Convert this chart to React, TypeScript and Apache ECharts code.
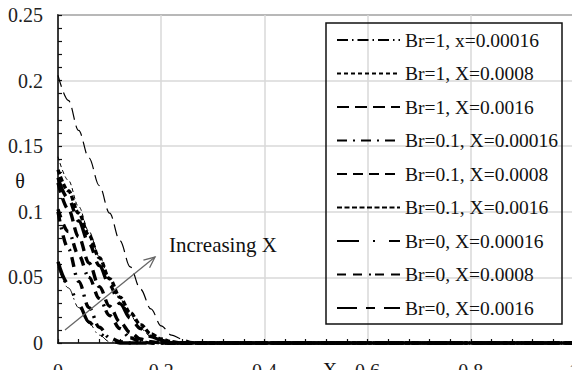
import React, { useEffect, useRef } from "react";
import * as echarts from "echarts";

// Positions along the duct (horizontal axis)
const xGrid = [0, 0.02, 0.04, 0.06, 0.08, 0.1, 0.12, 0.14, 0.16, 0.18, 0.2, 0.22, 0.24, 0.26, 0.28, 0.3, 1];

const seriesNames = [
  "Br=1, x=0.00016",
  "Br=1, X=0.0008",
  "Br=1, X=0.0016",
  "Br=0.1, X=0.00016",
  "Br=0.1, X=0.0008",
  "Br=0.1, X=0.0016",
  "Br=0, X=0.00016",
  "Br=0, X=0.0008",
  "Br=0, X=0.0016",
];

const br1X00016 = [0.058, 0.042, 0.027, 0.015, 0.006, 0.001, 0, 0, 0, 0, 0, 0, 0, 0, 0, 0, 0];
const br1X0008 = [0.142, 0.124, 0.104, 0.085, 0.066, 0.049, 0.034, 0.021, 0.011, 0.005, 0.002, 0.0005, 0, 0, 0, 0, 0];
const br1X0016 = [0.204, 0.185, 0.162, 0.141, 0.12, 0.099, 0.078, 0.058, 0.041, 0.026, 0.013, 0.006, 0.003, 0.001, 0, 0, 0];
const br01X00016 = [0.1, 0.072, 0.047, 0.027, 0.012, 0.004, 0.001, 0, 0, 0, 0, 0, 0, 0, 0, 0, 0];
const br01X0008 = [0.122, 0.102, 0.081, 0.061, 0.043, 0.028, 0.016, 0.008, 0.003, 0.001, 0, 0, 0, 0, 0, 0, 0];
const br01X0016 = [0.132, 0.116, 0.099, 0.082, 0.065, 0.049, 0.035, 0.023, 0.014, 0.007, 0.003, 0.001, 0, 0, 0, 0, 0];
const br0X00016 = [0.062, 0.045, 0.029, 0.016, 0.007, 0.002, 0, 0, 0, 0, 0, 0, 0, 0, 0, 0, 0];
const br0X0008 = [0.102, 0.085, 0.067, 0.05, 0.034, 0.021, 0.011, 0.004, 0.001, 0, 0, 0, 0, 0, 0, 0, 0];
const br0X0016 = [0.126, 0.11, 0.093, 0.076, 0.059, 0.044, 0.03, 0.019, 0.011, 0.005, 0.002, 0.0005, 0, 0, 0, 0, 0];

const seriesValues = [br1X00016, br1X0008, br1X0016, br01X00016, br01X0008, br01X0016, br0X00016, br0X0008, br0X0016];

// Annotation arrow, in data coordinates
const arrowStart = [0.0136, 0.0099];
const arrowEnd = [0.188, 0.0655];
const arrowLabel = "Increasing X";

const FONT = "Liberation Serif, Times New Roman, Tinos, DejaVu Serif, Noto Serif, serif";

const lineStyles: { width: number; type: number[] }[] = [
  { width: 1, type: [11, 4, 1.5, 4] },
  { width: 1, type: [4, 3] },
  { width: 1.2, type: [12, 6] },
  { width: 3.4, type: [10, 6, 2, 6] },
  { width: 3.4, type: [10, 6] },
  { width: 3.4, type: [5, 2.5] },
  { width: 3.4, type: [22, 14, 2, 14] },
  { width: 3.4, type: [9, 7, 9, 7, 2, 4] },
  { width: 3.4, type: [20, 9, 9, 9] },
];

export default function App() {
  const ref = useRef<HTMLDivElement>(null);
  useEffect(() => {
    const chart = echarts.init(ref.current!, null, { renderer: "svg" });
    const series = seriesNames.map((name, i) => ({
      name,
      type: "line",
      data: xGrid.map((x, j) => [x, seriesValues[i][j]]),
      smooth: 0.35,
      smoothMonotone: "x",
      showSymbol: false,
      symbol: "none",
      lineStyle: { color: "#000", width: lineStyles[i].width, type: lineStyles[i].type },
      itemStyle: { color: "#000" },
      clip: false,
    }));
    chart.setOption({
      animation: false,
      backgroundColor: "#fff",
      textStyle: { fontFamily: FONT },
      grid: {
        left: 58,
        top: 15,
        width: 516,
        bottom: 27,
        show: true,
        borderColor: "#222",
        borderWidth: 1.5,
        outerBoundsMode: "none",
        containLabel: false,
      },
      xAxis: {
        type: "value",
        min: 0,
        max: 1,
        interval: 0.2,
        axisLine: { show: true, lineStyle: { color: "#111", width: 1.5 } },
        axisTick: { show: true, inside: true, length: 4, lineStyle: { color: "#111", width: 1.2 } },
        minorTick: { show: true, splitNumber: 5, length: 4, lineStyle: { color: "#111", width: 1.2 } },
        splitLine: { show: true, lineStyle: { color: "#d9d9d9", width: 1.5 } },
        axisLabel: { color: "#222", fontFamily: FONT, fontSize: 20, margin: 18 },
      },
      yAxis: {
        type: "value",
        min: 0,
        max: 0.25,
        interval: 0.05,
        axisLine: { show: true, lineStyle: { color: "#111", width: 1.5 } },
        axisTick: { show: true, inside: true, length: 4, lineStyle: { color: "#111", width: 1.2 } },
        minorTick: { show: true, splitNumber: 5, length: 4, lineStyle: { color: "#111", width: 1.2 } },
        splitLine: { show: true, lineStyle: { color: "#d9d9d9", width: 1.5 } },
        axisLabel: { color: "#222", fontFamily: FONT, fontSize: 20, margin: 15 },
      },
      legend: {
        orient: "vertical",
        left: 336,
        top: 30,
        padding: 0,
        itemWidth: 63,
        itemHeight: 14,
        itemGap: 13.5,
        itemStyle: { color: "rgba(0,0,0,0)", borderColor: "rgba(0,0,0,0)", borderWidth: 0, opacity: 0 },
        textStyle: { color: "#111", fontFamily: FONT, fontSize: 19.5, lineHeight: 20 },
        data: seriesNames,
      },
      series,
    });
    const p0 = chart.convertToPixel({ gridIndex: 0 }, arrowStart) as number[];
    const p1 = chart.convertToPixel({ gridIndex: 0 }, arrowEnd) as number[];
    const ang = Math.atan2(p1[1] - p0[1], p1[0] - p0[0]);
    const hl = 12;
    const ha = 0.42;
    const h1 = [p1[0] - hl * Math.cos(ang - ha), p1[1] - hl * Math.sin(ang - ha)];
    const h2 = [p1[0] - hl * Math.cos(ang + ha), p1[1] - hl * Math.sin(ang + ha)];
    chart.setOption({
      graphic: [
        {
          type: "rect",
          z: 50,
          shape: { x: 326, y: 23, width: 236, height: 301 },
          style: { fill: "none", stroke: "#111", lineWidth: 1.5 },
        },
        {
          type: "line",
          z: 50,
          shape: { x1: p0[0], y1: p0[1], x2: p1[0], y2: p1[1] },
          style: { stroke: "#666", lineWidth: 1.3 },
        },
        {
          type: "polyline",
          z: 50,
          shape: { points: [h1, p1, h2] },
          style: { stroke: "#666", lineWidth: 1.3, fill: "none" },
        },
        {
          type: "text",
          z: 50,
          x: 169,
          y: 245,
          style: { text: arrowLabel, fill: "#111", fontFamily: FONT, fontSize: 21, verticalAlign: "middle", align: "left" },
        },
        {
          type: "text",
          z: 50,
          x: 20,
          y: 181,
          style: { text: "θ", fill: "#111", fontFamily: FONT, fontSize: 20, verticalAlign: "middle", align: "center" },
        },
        {
          type: "text",
          z: 50,
          x: 330,
          y: 370,
          style: { text: "X", fill: "#111", fontFamily: FONT, fontSize: 20, verticalAlign: "middle", align: "center" },
        },
      ],
    });
    return () => chart.dispose();
  }, []);
  return <div ref={ref} style={{ position: "fixed", left: 0, top: 0, width: 572, height: 370 }} />;
}
